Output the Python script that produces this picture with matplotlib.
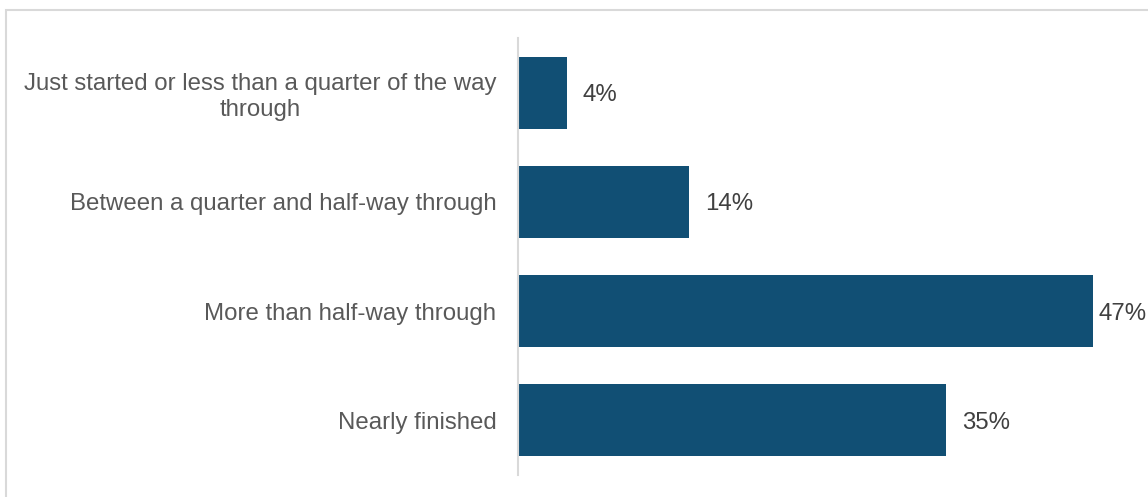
import matplotlib.pyplot as plt
from matplotlib.patches import Rectangle
from matplotlib.transforms import offset_copy

plt.rcParams['font.family'] = ['Liberation Sans', 'DejaVu Sans']

categories = [
    "Just started or less than a quarter of the way\nthrough",
    "Between a quarter and half-way through",
    "More than half-way through",
    "Nearly finished",
]
values = [4, 14, 47, 35]
labels = ["4%", "14%", "47%", "35%"]

bar_color = "#114f74"
W, H = 1148, 497

fig = plt.figure(figsize=(W / 100, H / 100), dpi=100)

# light frame around the chart area
fig.patches.append(Rectangle((6 / W, -0.1), 1.2, (H - 9.5) / H + 0.1,
                             transform=fig.transFigure, fill=False,
                             edgecolor="#d9d9d9", linewidth=1.5))

ax = fig.add_axes([518 / W, 22 / H, 612 / W, 437 / H])
y = list(range(len(categories)))
ax.barh(y, values, height=0.66, color=bar_color)
ax.set_xlim(0, 50)
ax.set_ylim(len(categories) - 0.5, -0.5)

ax.set_yticks(y)
ax.set_yticklabels(categories, fontsize=17.3, color="#595959", linespacing=1.2)
for t in ax.get_yticklabels():
    t.set_horizontalalignment("right")
    t.set_multialignment("center")
ax.tick_params(axis="y", length=0, pad=15.5)
ax.set_xticks([])
for side in ["top", "right", "bottom"]:
    ax.spines[side].set_visible(False)
ax.spines["left"].set_color("#d9d9d9")
ax.spines["left"].set_linewidth(1.5)

# value labels just past the bar ends, kept inside the figure
trans = offset_copy(ax.transData, fig=fig, x=16, y=0, units="dots")
texts = [ax.text(v, yi, lab, va="center_baseline", ha="left", fontsize=17.3,
                 color="#404040", clip_on=False, transform=trans)
         for yi, v, lab in zip(y, values, labels)]
fig.canvas.draw()
r = fig.canvas.get_renderer()
for t in texts:
    bb = t.get_window_extent(r)
    over = bb.x1 - (W - 1)
    if over > 0:
        t.set_transform(offset_copy(ax.transData, fig=fig, x=16 - over, y=0,
                                    units="dots"))

fig.savefig("out.png", dpi=100)
